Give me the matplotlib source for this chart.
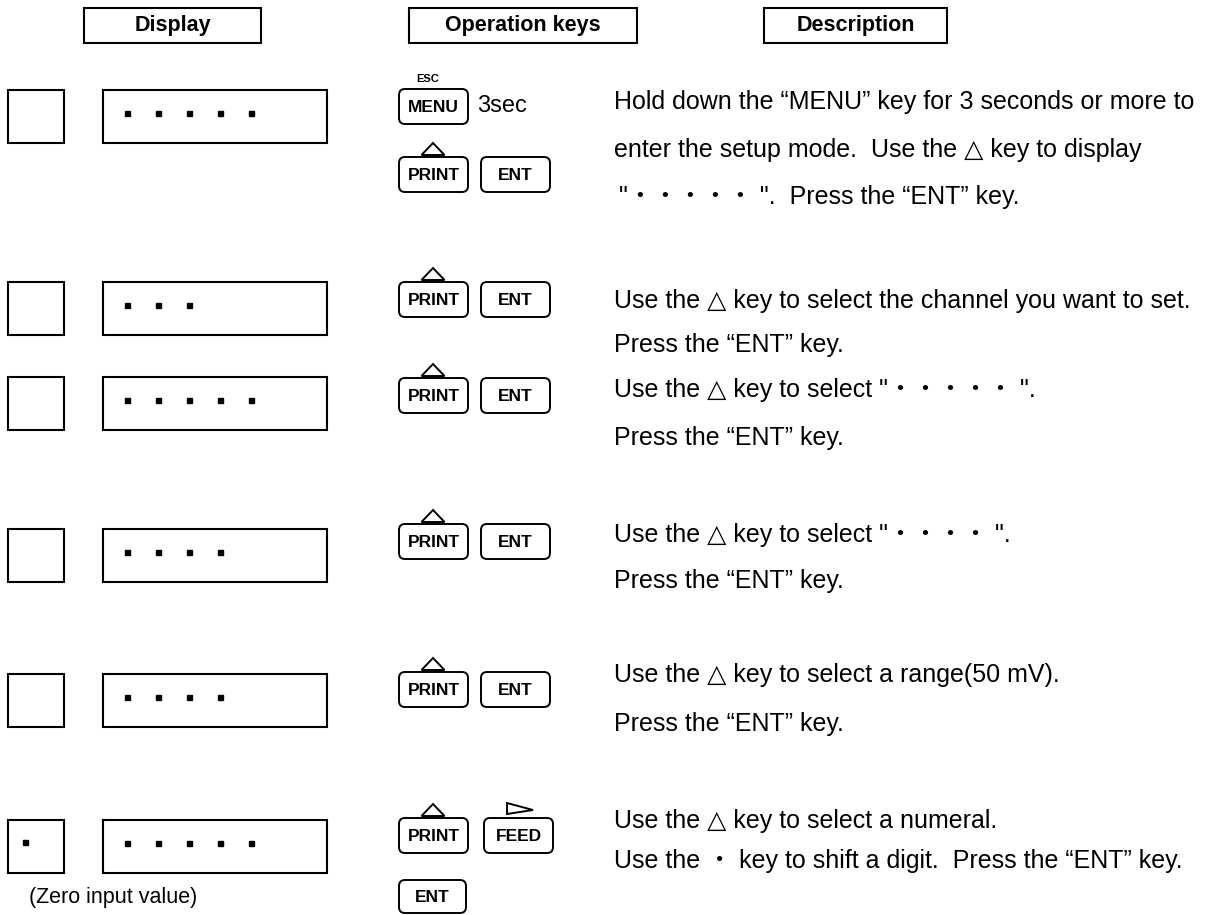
import matplotlib.pyplot as plt
from matplotlib.patches import Rectangle, FancyBboxPatch, Polygon

plt.rcParams['font.family'] = ['Liberation Sans', 'DejaVu Sans', 'Noto Sans CJK JP']

# column headers
headers = ['Display', 'Operation keys', 'Description']
header_x = [(84, 261), (409, 637), (764, 947)]

# display rows (top pixel of each row) and number of dots shown
row_top = [90, 282, 377, 529, 674, 820]
disp_dots = [5, 3, 5, 4, 4, 5]
small_dot = [False, False, False, False, False, True]

# key rows: top of PRINT key in each row
key_top = [157, 282, 378, 524, 672, 818]
second_key = ['ENT', 'ENT', 'ENT', 'ENT', 'ENT', 'FEED']

# description lines (x, baseline y, text)
desc_lines = [
    (614, 109, 'Hold down the \u201cMENU\u201d key for 3 seconds or more to'),
    (614, 157, 'enter the setup mode.  Use the \u25b3 key to display'),
    (619, 204, '"\u30fb\u30fb\u30fb\u30fb\u30fb ".  Press the \u201cENT\u201d key.'),
    (614, 308, 'Use the \u25b3 key to select the channel you want to set.'),
    (614, 352, 'Press the \u201cENT\u201d key.'),
    (614, 397, 'Use the \u25b3 key to select "\u30fb\u30fb\u30fb\u30fb\u30fb ".'),
    (614, 445, 'Press the \u201cENT\u201d key.'),
    (614, 542, 'Use the \u25b3 key to select "\u30fb\u30fb\u30fb\u30fb ".'),
    (614, 588, 'Press the \u201cENT\u201d key.'),
    (614, 682, 'Use the \u25b3 key to select a range(50 mV).'),
    (614, 731, 'Press the \u201cENT\u201d key.'),
    (614, 828, 'Use the \u25b3 key to select a numeral.'),
    (614, 868, 'Use the \u30fb key to shift a digit.  Press the \u201cENT\u201d key.'),
]

fig = plt.figure(figsize=(12.08, 9.15), dpi=100)
ax = fig.add_axes([0, 0, 1, 1])
ax.set_xlim(0, 1208)
ax.set_ylim(915, 0)
ax.axis('off')

# headers
for name, (x0, x1) in zip(headers, header_x):
    ax.add_patch(Rectangle((x0, 8), x1 - x0, 35, fill=False, lw=1.5, ec='black'))
    ax.text((x0 + x1) / 2, 26, name, ha='center', va='center',
            fontsize=15.5, fontweight='bold')


def key(x, y, w, h, label):
    ax.add_patch(FancyBboxPatch((x, y), w, h, boxstyle='round,pad=0,rounding_size=6',
                                fill=False, lw=1.4, ec='black'))
    ax.text(x + w / 2, y + h / 2 + 1, label, ha='center', va='center',
            fontsize=12.5, fontweight='bold')


def up_tri(cx, ybase):
    ax.add_patch(Polygon([(cx - 11.5, ybase), (cx + 11.5, ybase), (cx, ybase - 12)],
                         closed=True, fill=False, lw=1.4, ec='black'))


# display column
for i, y in enumerate(row_top):
    ax.add_patch(Rectangle((8, y), 56, 53, fill=False, lw=1.5, ec='black'))
    ax.add_patch(Rectangle((103, y), 224, 53, fill=False, lw=1.5, ec='black'))
    xs = [127 + 31 * k for k in range(disp_dots[i])]
    ax.plot(xs, [y + 23] * len(xs), 's', color='black', ms=3.6, mec='black')
    if small_dot[i]:
        ax.plot([25], [y + 22], 's', color='black', ms=3.6)

ax.text(113, 897, '(Zero input value)', ha='center', va='center', fontsize=15.5)

# operation keys column
ax.text(428, 79, 'ESC', ha='center', va='center', fontsize=8, fontweight='bold')
key(399, 89, 69, 35, 'MENU')
ax.text(477, 106, '3sec', ha='left', va='center', fontsize=17)

for i, y in enumerate(key_top):
    key(399, y, 69, 35, 'PRINT')
    up_tri(433, y - 2)
    if second_key[i] == 'FEED':
        key(484, y, 69, 35, 'FEED')
        ax.add_patch(Polygon([(507, y - 15), (533, y - 8), (507, y - 4)],
                             closed=True, fill=False, lw=1.4, ec='black'))
    else:
        key(481, y, 69, 35, second_key[i])

key(399, 880, 67, 33, 'ENT')

# description column
for x, y, t in desc_lines:
    ax.text(x, y, t, ha='left', va='baseline', fontsize=18)

fig.savefig('out.png', dpi=100, facecolor='white')
